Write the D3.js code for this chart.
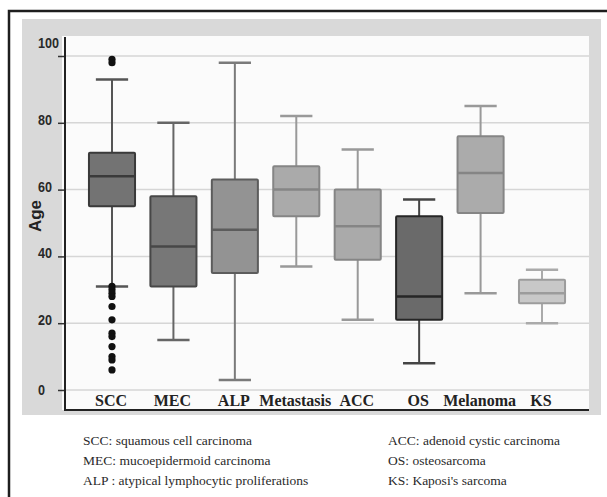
<!DOCTYPE html>
<html>
<head>
<meta charset="utf-8">
<script src="https://cdn.jsdelivr.net/npm/d3@7"></script>
<style>
  html, body { margin: 0; padding: 0; background: #fff; }
  svg { display: block; }
  .serif { font-family: "Liberation Serif", "Times New Roman", Times, "DejaVu Serif", serif; }
  .narrow { font-family: "Liberation Sans Narrow", "Arial Narrow", "Liberation Sans", Arial, sans-serif; }
</style>
</head>
<body>
<div id="chart"></div>
<script>
// tumour types along the x axis
const categories = ["SCC", "MEC", "ALP", "Metastasis", "ACC", "OS", "Melanoma", "KS"];
// box plot stats (age)
const whiskerLow  = [31, 15,  3, 37, 21,  8, 29, 20];
const q1          = [55, 31, 35, 52, 39, 21, 53, 26];
const medians     = [64, 43, 48, 60, 49, 28, 65, 29];
const q3          = [71, 58, 63, 67, 60, 52, 76, 33];
const whiskerHigh = [93, 80, 98, 82, 72, 57, 85, 36];
// SCC outliers
const sccOutliers = [99, 98, 31, 30, 29, 28, 25, 21, 17, 16, 13, 10, 9, 6];
const yTicks = [0, 20, 40, 60, 80, 100];
const legendLeft = ["SCC: squamous cell carcinoma", "MEC: mucoepidermoid carcinoma", "ALP : atypical lymphocytic proliferations"];
const legendRight = ["ACC: adenoid cystic carcinoma", "OS: osteosarcoma", "KS: Kaposi's sarcoma"];

// greys per box: fill, outline, whisker
const boxStyle = {
  SCC:        ["#737373", "#3a3a3a", "#555"],
  MEC:        ["#777777", "#474747", "#666"],
  ALP:        ["#939393", "#5c5c5c", "#7a7a7a"],
  Metastasis: ["#aaaaaa", "#858585", "#999"],
  ACC:        ["#aaaaaa", "#858585", "#999"],
  OS:         ["#6a6a6a", "#262626", "#444"],
  Melanoma:   ["#ababab", "#858585", "#999"],
  KS:         ["#c8c8c8", "#9c9c9c", "#aaa"]
};

const W = 607, H = 497;
const svg = d3.select("#chart").append("svg").attr("width", W).attr("height", H);

svg.append("rect").attr("width", W).attr("height", H).attr("fill", "#fff");

// grey panel + white plot area
svg.append("rect").attr("x", 22).attr("y", 19).attr("width", 579).attr("height", 396).attr("fill", "#d9d9d9");
svg.append("rect").attr("x", 62).attr("y", 36).attr("width", 527).attr("height", 374).attr("fill", "#fbfbfb");

// outer frame (only top and left show)
svg.append("path").attr("d", `M9,${H} V11 H${W}`).attr("fill", "none").attr("stroke", "#1e1e1e").attr("stroke-width", 2.5);

const x = d3.scaleBand().domain(categories).range([65, 589]).paddingInner(0.25).paddingOuter(0.39);
const y = d3.scaleLinear().domain([0, 100]).range([390, 56]);

// gridlines
svg.append("g").selectAll("line").data(yTicks).join("line")
  .attr("x1", 66).attr("x2", 589)
  .attr("y1", d => y(d)).attr("y2", d => y(d))
  .attr("stroke", "#d6d6d6").attr("stroke-width", 1.5);

// y axis
const yAxis = svg.append("g").attr("transform", "translate(64,0)")
  .call(d3.axisLeft(y).tickValues(yTicks).tickSize(6).tickSizeOuter(0));
yAxis.select(".domain").remove();
yAxis.selectAll(".tick line").attr("stroke", "#333").attr("stroke-width", 1.5);
yAxis.selectAll(".tick text")
  .attr("class", "narrow")
  .attr("x", -26).attr("text-anchor", "start")
  .attr("dy", d => d === 100 ? "-0.55em" : d === 0 ? "0.32em" : "0.1em")
  .attr("fill", "#2a2a2a")
  .attr("font-family", null)
  .style("font-weight", "bold").style("font-size", "15px")
  .attr("textLength", d => String(d).length * 7).attr("lengthAdjust", "spacingAndGlyphs");

// L-shaped axis lines
svg.append("path").attr("d", "M65,37 V410 H589").attr("fill", "none").attr("stroke", "#222").attr("stroke-width", 2);

svg.append("text")
  .attr("transform", "translate(41,216) rotate(-90)")
  .attr("text-anchor", "middle")
  .attr("fill", "#222")
  .style("font-family", "'Liberation Sans', Arial, sans-serif")
  .style("font-weight", "bold").style("font-size", "17px")
  .text("Age");

// x labels
svg.append("g").selectAll("text").data(categories).join("text")
  .attr("class", "serif")
  .attr("x", d => x(d) + x.bandwidth() / 2 - 1)
  .attr("y", 406)
  .attr("text-anchor", "middle")
  .attr("fill", "#222")
  .style("font-weight", "bold").style("font-size", "16px")
  .text(d => d);

// boxes
const bw = x.bandwidth();
const capW = bw * 0.7;
const stats = categories.map((c, i) => ({
  name: c, lo: whiskerLow[i], q1: q1[i], med: medians[i], q3: q3[i], hi: whiskerHigh[i]
}));

const g = svg.append("g").selectAll("g").data(stats).join("g")
  .attr("transform", d => `translate(${x(d.name) + bw / 2},0)`);

g.append("line").attr("y1", d => y(d.lo)).attr("y2", d => y(d.q1))
  .attr("stroke", d => boxStyle[d.name][2]).attr("stroke-width", 2);
g.append("line").attr("y1", d => y(d.q3)).attr("y2", d => y(d.hi))
  .attr("stroke", d => boxStyle[d.name][2]).attr("stroke-width", 2);
g.append("line").attr("x1", -capW / 2).attr("x2", capW / 2)
  .attr("y1", d => y(d.lo)).attr("y2", d => y(d.lo))
  .attr("stroke", d => boxStyle[d.name][2]).attr("stroke-width", 2.5);
g.append("line").attr("x1", -capW / 2).attr("x2", capW / 2)
  .attr("y1", d => y(d.hi)).attr("y2", d => y(d.hi))
  .attr("stroke", d => boxStyle[d.name][2]).attr("stroke-width", 2.5);

g.append("rect")
  .attr("x", -bw / 2).attr("width", bw)
  .attr("y", d => y(d.q3)).attr("height", d => y(d.q1) - y(d.q3))
  .attr("fill", d => boxStyle[d.name][0])
  .attr("stroke", d => boxStyle[d.name][1]).attr("stroke-width", 2).attr("rx", 1);

g.append("line").attr("x1", -bw / 2).attr("x2", bw / 2)
  .attr("y1", d => y(d.med)).attr("y2", d => y(d.med))
  .attr("stroke", d => boxStyle[d.name][1]).attr("stroke-width", 2.5);

// SCC outliers
svg.append("g").selectAll("circle").data(sccOutliers).join("circle")
  .attr("cx", x("SCC") + bw / 2)
  .attr("cy", d => y(d))
  .attr("r", 3.6)
  .attr("fill", "#111");

// abbreviation key under the chart
svg.append("g").selectAll("text").data(legendLeft).join("text")
  .attr("class", "serif")
  .attr("x", 83).attr("y", (d, i) => 445 + i * 20)
  .attr("fill", "#2a2a2a").style("font-size", "13.5px")
  .text(d => d);
svg.append("g").selectAll("text").data(legendRight).join("text")
  .attr("class", "serif")
  .attr("x", 388).attr("y", (d, i) => 445 + i * 20)
  .attr("fill", "#2a2a2a").style("font-size", "13.5px")
  .text(d => d);
</script>
</body>
</html>
